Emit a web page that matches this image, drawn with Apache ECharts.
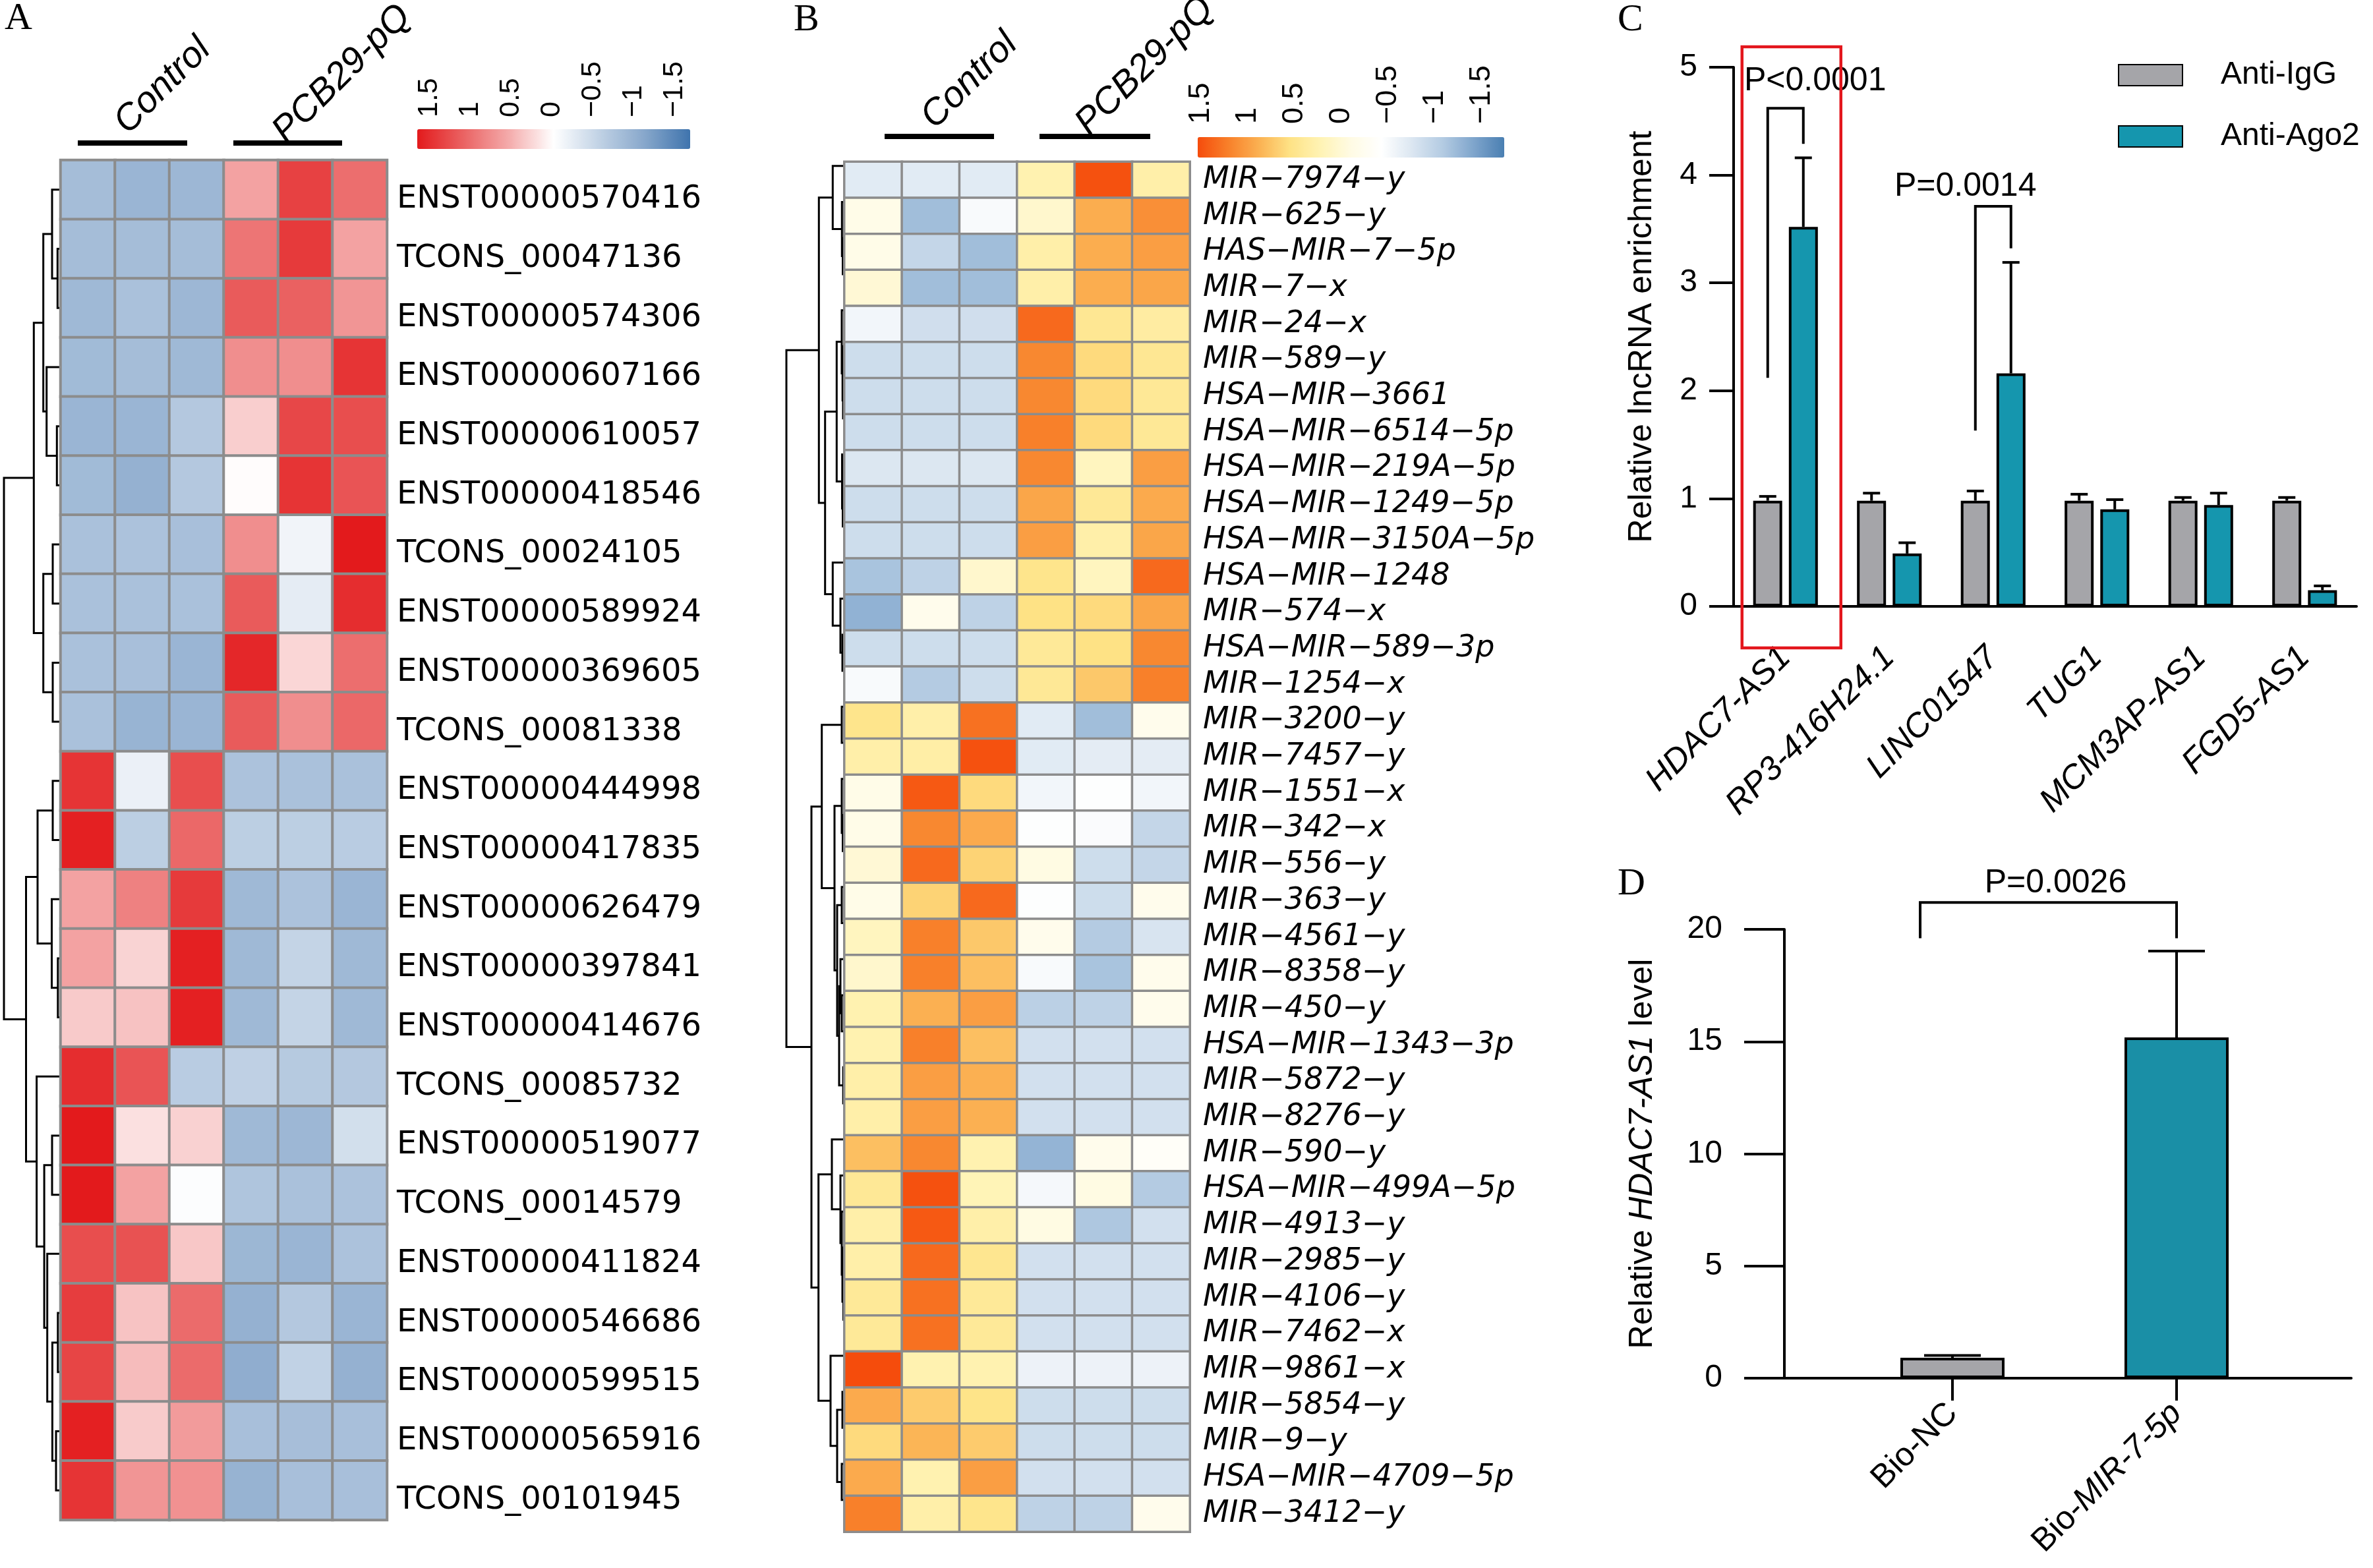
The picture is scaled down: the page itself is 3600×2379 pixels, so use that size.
<!DOCTYPE html>
<html><head><meta charset="utf-8">
<script src="https://cdn.jsdelivr.net/npm/echarts/dist/echarts.min.js"></script>
<style>html,body{margin:0;padding:0;background:#fff}#c{width:3600px;height:2379px}</style>
</head><body><div id="c"></div>
<script>
// ---------------- DATA ----------------
const sampleCols = ['Control 1','Control 2','Control 3','PCB29-pQ 1','PCB29-pQ 2','PCB29-pQ 3'];

// Panel A (lncRNA heatmap, z-scores)
const aRows = ['ENST00000570416','TCONS_00047136','ENST00000574306','ENST00000607166','ENST00000610057',
  'ENST00000418546','TCONS_00024105','ENST00000589924','ENST00000369605','TCONS_00081338',
  'ENST00000444998','ENST00000417835','ENST00000626479','ENST00000397841','ENST00000414676',
  'TCONS_00085732','ENST00000519077','TCONS_00014579','ENST00000411824','ENST00000546686',
  'ENST00000599515','ENST00000565916','TCONS_00101945'];
const aValues = [
  [-0.85,-0.95,-0.92, 0.6, 1.35, 1.0],
  [-0.85,-0.85,-0.85, 0.95, 1.4, 0.6],
  [-0.9,-0.8,-0.92, 1.15, 1.1, 0.7],
  [-0.88,-0.85,-0.9, 0.75, 0.75, 1.45],
  [-0.95,-0.95,-0.7, 0.3, 1.3, 1.25],
  [-0.88,-1.0,-0.7, 0.0, 1.45, 1.2],
  [-0.8,-0.78,-0.82, 0.75, -0.15, 1.65],
  [-0.8,-0.8,-0.8, 1.15, -0.25, 1.5],
  [-0.8,-0.82,-0.95, 1.55, 0.25, 1.0],
  [-0.8,-0.97,-0.95, 1.15, 0.75, 1.05],
  [1.45,-0.2,1.25, -0.78,-0.8,-0.8],
  [1.6,-0.62,1.05, -0.62,-0.62,-0.65],
  [0.6,0.85,1.4, -0.9,-0.78,-0.95],
  [0.6,0.27,1.6, -0.9,-0.55,-0.9],
  [0.33,0.38,1.6, -0.9,-0.55,-0.9],
  [1.5,1.2,-0.65, -0.6,-0.68,-0.7],
  [1.65,0.18,0.28, -0.9,-0.92,-0.42],
  [1.65,0.6,-0.05, -0.75,-0.8,-0.78],
  [1.25,1.22,0.35, -0.93,-0.95,-0.78],
  [1.38,0.37,1.02, -1.0,-0.7,-0.95],
  [1.32,0.42,1.02, -1.05,-0.58,-1.0],
  [1.6,0.32,0.65, -0.82,-0.83,-0.82],
  [1.45,0.7,0.73, -0.98,-0.82,-0.82]
];
// hclust-style merges: negative = leaf (row index + 1), positive = earlier merge number; third = height
const aMerges = [
  [-2,-3,4.7],[-1,1,13],[-5,-6,5.7],[-4,3,21.3],[2,4,26.3],[-7,-8,12],[-9,-10,12],[6,7,26.3],[5,8,40.7],
  [-11,-12,12],[-14,-15,4.2],[-13,11,13.5],[10,12,35],[-17,-18,13],[-20,-21,4.2],[-22,-23,7],[15,16,12.6],
  [-19,17,20.3],[14,18,24.9],[-16,19,36.4],[13,20,52.5],[9,21,86]
];
const aRange = [-1.69, 1.65];
const aPalette = ['#3f74ad','#87a7cb','#c1d2e5','#ffffff','#f4aaaa','#ea6262','#e31a1c'];
const aColorTicks = [1.5, 1, 0.5, 0, -0.5, -1, -1.5];

// Panel B (miRNA heatmap, z-scores)
const bRows = ['MIR\u22127974\u2212y','MIR\u2212625\u2212y','HAS\u2212MIR\u22127\u22125p','MIR\u22127\u2212x','MIR\u221224\u2212x',
  'MIR\u2212589\u2212y','HSA\u2212MIR\u22123661','HSA\u2212MIR\u22126514\u22125p','HSA\u2212MIR\u2212219A\u22125p','HSA\u2212MIR\u22121249\u22125p',
  'HSA\u2212MIR\u22123150A\u22125p','HSA\u2212MIR\u22121248','MIR\u2212574\u2212x','HSA\u2212MIR\u2212589\u22123p','MIR\u22121254\u2212x',
  'MIR\u22123200\u2212y','MIR\u22127457\u2212y','MIR\u22121551\u2212x','MIR\u2212342\u2212x','MIR\u2212556\u2212y',
  'MIR\u2212363\u2212y','MIR\u22124561\u2212y','MIR\u22128358\u2212y','MIR\u2212450\u2212y','HSA\u2212MIR\u22121343\u22123p',
  'MIR\u22125872\u2212y','MIR\u22128276\u2212y','MIR\u2212590\u2212y','HSA\u2212MIR\u2212499A\u22125p','MIR\u22124913\u2212y',
  'MIR\u22122985\u2212y','MIR\u22124106\u2212y','MIR\u22127462\u2212x','MIR\u22129861\u2212x','MIR\u22125854\u2212y',
  'MIR\u22129\u2212y','HSA\u2212MIR\u22124709\u22125p','MIR\u22123412\u2212y'];
const bValues = [
  [-0.7,-0.7,-0.7, 0.25,1.5,0.3],
  [-0.15,-1.2,-0.5, 0.05,0.9,1.1],
  [-0.15,-0.95,-1.2, 0.3,0.9,1.0],
  [0.0,-1.2,-1.2, 0.3,0.9,0.95],
  [-0.55,-0.85,-0.85, 1.35,0.45,0.35],
  [-0.87,-0.87,-0.87, 1.15,0.6,0.45],
  [-0.87,-0.87,-0.87, 1.15,0.6,0.43],
  [-0.87,-0.87,-0.87, 1.2,0.6,0.43],
  [-0.75,-0.75,-0.75, 1.15,0.15,1.0],
  [-0.87,-0.87,-0.87, 0.95,0.43,0.92],
  [-0.87,-0.87,-0.87, 1.0,0.3,0.95],
  [-1.15,-1.0,0.05, 0.5,0.15,1.35],
  [-1.3,-0.2,-1.0, 0.55,0.6,0.95],
  [-0.87,-0.87,-0.87, 0.42,0.55,1.15],
  [-0.5,-1.08,-0.87, 0.43,0.72,1.2],
  [0.5,0.3,1.3, -0.7,-1.2,-0.2],
  [0.3,0.32,1.5, -0.7,-0.68,-0.68],
  [-0.15,1.45,0.6, -0.55,-0.45,-0.55],
  [-0.15,1.15,0.92, -0.45,-0.48,-0.95],
  [0.0,1.35,0.65, -0.1,-0.87,-0.95],
  [-0.15,0.65,1.35, -0.45,-0.87,-0.2],
  [0.15,1.2,0.72, -0.2,-1.08,-0.78],
  [0.05,1.2,0.78, -0.5,-1.15,-0.2],
  [0.25,0.88,1.0, -1.02,-1.0,-0.2],
  [0.25,1.2,0.78, -0.83,-0.83,-0.83],
  [0.3,1.0,0.88, -0.83,-0.83,-0.83],
  [0.3,1.0,0.88, -0.83,-0.83,-0.83],
  [0.78,1.15,0.25, -1.28,-0.2,-0.35],
  [0.43,1.5,0.2, -0.52,-0.1,-1.08],
  [0.3,1.45,0.3, -0.1,-1.12,-0.83],
  [0.3,1.35,0.47, -0.83,-0.83,-0.83],
  [0.42,1.3,0.42, -0.83,-0.83,-0.83],
  [0.42,1.3,0.42, -0.83,-0.83,-0.83],
  [1.55,0.25,0.25, -0.6,-0.6,-0.6],
  [0.92,0.7,0.52, -0.87,-0.87,-0.87],
  [0.6,0.85,0.7, -0.87,-0.87,-0.87],
  [0.92,0.25,1.0, -0.83,-0.83,-0.83],
  [1.2,0.3,0.5, -1.0,-1.0,-0.2]
];
const bMerges = [
  [-3,-4,1.5],[-2,1,2.7],[-1,2,16.7],[-7,-8,1],[-6,4,1.8],[-5,5,3],[-10,-11,1.5],[-9,7,2.5],[6,8,10.7],
  [-14,-15,2],[-13,10,5],[-12,11,16.7],[9,12,28.3],[3,13,37.7],
  [-16,-17,3],[-19,-20,1.5],[-18,16,3],[-21,-22,3],[-24,-25,3],[-23,19,5],[-26,-27,0.8],[20,21,7],[18,22,10],
  [17,23,14],[15,24,33.3],[-32,-33,0.5],[-31,26,2],[-30,27,3],[-29,28,5],[-28,29,18],[-35,-36,2],[-37,-38,3],
  [31,32,10],[-34,33,20],[30,34,38.3],[25,35,49],[14,36,87]
];
const bRange = [-1.74, 1.53];
const bPalette = ['#4a7fb2','#7fa5cc','#b3cbe2','#dbe6f1','#ffffff','#fffbe4','#fff3b4','#fee285','#fbb152','#f8802a','#f54c0c'];
const bColorTicks = [1.5, 1, 0.5, 0, -0.5, -1, -1.5];

// Panel C (RIP enrichment)
const cCategories = ['HDAC7-AS1','RP3-416H24.1','LINC01547','TUG1','MCM3AP-AS1','FGD5-AS1'];
const cIgG    = [0.98, 0.98, 0.98, 0.98, 0.98, 0.98];
const cIgGErr = [0.04, 0.07, 0.09, 0.06, 0.03, 0.03];
const cAgo2    = [3.52, 0.49, 2.16, 0.90, 0.94, 0.15];
const cAgo2Err = [0.64, 0.10, 1.03, 0.09, 0.11, 0.04];
// [category, left leg bottom, top, right leg bottom, label y]
const cBrackets = [[0, 2.12, 4.62, 4.29, 4.87], [2, 1.63, 3.71, 3.32, 3.89]];
const cBracketLabels = ['P<0.0001', 'P=0.0014'];
const cHighlight = [[0, 5.19, -0.385]];

// Panel D (pull-down)
const dCategories = ['Bio-NC', 'Bio-MIR-7-5p'];
const dItalicPart = ['', 'MIR-7-5p'];
const dValues = [0.91, 15.18];
const dErr = [0.10, 3.85];
const dBracket = [[0, 1, 19.6, 21.2, 19.6, 22.05]];
const dBracketLabels = ['P=0.0026'];

// ---------------- STYLE ----------------
const SANS = "'Liberation Sans', Arial, sans-serif";
const DJ = "'DejaVu Sans', sans-serif";
const SERIF = "'Liberation Serif', 'Times New Roman', serif";
const GRAY = '#a5a5a9', TEAL = '#1596ae', TEAL_D = '#1a8fa6';

// ---------------- HELPERS ----------------
function flatten(values){ const out=[]; values.forEach((row,r)=>row.forEach((v,c)=>out.push([c,r,v]))); return out; }
function dendro(merges){
  const nodes=[], segs=[];
  const get = r => r < 0 ? {y:-r-1, h:0} : nodes[r-1];
  merges.forEach(m => { const a=get(m[0]), b=get(m[1]);
    segs.push([a.y, a.h, b.y, b.h, m[2]]); nodes.push({y:(a.y+b.y)/2, h:m[2]}); });
  return segs;
}
function dendroRender(params, api){
  const y1=api.value(0), h1=api.value(1), y2=api.value(2), h2=api.value(3), H=api.value(4);
  return {type:'polyline', shape:{points:[api.coord([h1,y1]), api.coord([H,y1]), api.coord([H,y2]), api.coord([h2,y2])]},
    style:{stroke:'#000', lineWidth:3, fill:null}};
}
const minus = v => v < 0 ? '\u2212' + Math.abs(v) : String(v);
function errRender(offsets, cap){
  return function(params, api){
    const cat=api.value(0), v=api.value(1), e=api.value(2), slot=api.value(3) || 0;
    const b=api.coord([cat, v]), t=api.coord([cat, v+e]); const x=b[0]+offsets[slot];
    return {type:'group', children:[
      {type:'line', shape:{x1:x,y1:b[1],x2:x,y2:t[1]}, style:{stroke:'#000', lineWidth:4}},
      {type:'line', shape:{x1:x-cap/2,y1:t[1],x2:x+cap/2,y2:t[1]}, style:{stroke:'#000', lineWidth:4}}]};
  };
}
const cErrData = [];
cIgG.forEach((v,i)=>cErrData.push([i, v, cIgGErr[i], 0]));
cAgo2.forEach((v,i)=>cErrData.push([i, v, cAgo2Err[i], 1]));

const chart = echarts.init(document.getElementById('c'), null, {renderer:'canvas'});
const HEAD = 'italic 56px ' + SANS;
const option = {
  animation:false,
  backgroundColor:'#fff',
  textStyle:{fontFamily:SANS, color:'#000'},
  grid:[
    {left:0, top:243, width:92, height:2063},        // 0 A dendrogram
    {left:92, top:243, width:495, height:2063},      // 1 A heatmap
    {left:633, top:196, width:414, height:30},       // 2 A colour key axis
    {left:1188, top:224.5, width:92, height:2078.6}, // 3 B dendrogram
    {left:1281, top:245.5, width:524, height:2078.6},// 4 B heatmap
    {left:1817, top:208, width:465, height:31},      // 5 B colour key axis
    {left:2630, top:102, width:945, height:818},     // 6 C
    {left:2707, top:1410, width:860, height:681},    // 7 D axes
    {left:2792, top:1410, width:680, height:681}     // 8 D bars
  ],
  xAxis:[
    {gridIndex:0, type:'value', min:0, max:92, inverse:true, show:false},
    {gridIndex:1, type:'category', data:sampleCols, show:false},
    {gridIndex:2, type:'value', min:aRange[0], max:aRange[1], inverse:true, position:'top',
      axisLine:{show:false}, axisTick:{show:false}, splitLine:{show:false},
      axisLabel:{customValues:aColorTicks, rotate:90, formatter:minus, fontSize:43, margin:18, color:'#000', fontFamily:SANS}},
    {gridIndex:3, type:'value', min:0, max:92, inverse:true, show:false},
    {gridIndex:4, type:'category', data:sampleCols, show:false},
    {gridIndex:5, type:'value', min:bRange[0], max:bRange[1], inverse:true, position:'top',
      axisLine:{show:false}, axisTick:{show:false}, splitLine:{show:false},
      axisLabel:{customValues:bColorTicks, rotate:90, formatter:minus, fontSize:45, margin:20, color:'#000', fontFamily:SANS}},
    {gridIndex:6, type:'category', data:cCategories,
      axisLine:{lineStyle:{color:'#000', width:4}},
      axisTick:{alignWithLabel:true, length:42, lineStyle:{color:'#000', width:4}},
      axisLabel:{interval:0, rotate:45, fontStyle:'italic', fontSize:51, margin:70, color:'#000', fontFamily:SANS}},
    {gridIndex:7, type:'value', min:0, max:1, axisLine:{show:true, onZero:false, lineStyle:{color:'#000', width:4}},
      axisTick:{show:false}, axisLabel:{show:false}, splitLine:{show:false}},
    {gridIndex:8, type:'category', data:dCategories,
      axisLine:{show:false},
      axisTick:{show:true, alignWithLabel:true, length:34, lineStyle:{color:'#000', width:4}},
      axisLabel:{interval:0, rotate:45, fontSize:50, margin:46, color:'#000', fontFamily:SANS,
        formatter:(v,i)=> dItalicPart[i] ? v.replace(dItalicPart[i], '{i|'+dItalicPart[i]+'}') : v,
        rich:{i:{fontStyle:'italic', fontSize:50, fontFamily:SANS, color:'#000'}}}}
  ],
  yAxis:[
    {gridIndex:0, type:'value', min:-0.5, max:aRows.length-0.5, inverse:true, show:false},
    {gridIndex:1, type:'category', data:aRows, inverse:true, position:'right',
      axisLine:{show:false}, axisTick:{show:false},
      axisLabel:{interval:0, fontSize:48, fontFamily:DJ, color:'#000', margin:15, verticalAlign:'top', lineHeight:30}},
    {gridIndex:2, type:'value', show:false},
    {gridIndex:3, type:'value', min:-0.5, max:bRows.length-0.5, inverse:true, show:false},
    {gridIndex:4, type:'category', data:bRows, inverse:true, position:'right',
      axisLine:{show:false}, axisTick:{show:false},
      axisLabel:{interval:0, fontSize:46, fontStyle:'italic', fontFamily:DJ, color:'#000', margin:20}},
    {gridIndex:5, type:'value', show:false},
    {gridIndex:6, type:'value', min:0, max:5, interval:1,
      axisLine:{show:true, lineStyle:{color:'#000', width:4}},
      axisTick:{show:true, length:37, lineStyle:{color:'#000', width:4}},
      splitLine:{show:false},
      axisLabel:{fontSize:48, margin:55, color:'#000', fontFamily:SANS},
      name:'Relative lncRNA enrichment', nameLocation:'middle', nameGap:114,
      nameTextStyle:{fontSize:50, fontFamily:SANS, color:'#000'}},
    {gridIndex:7, type:'value', min:0, max:20, interval:5,
      axisLine:{show:true, lineStyle:{color:'#000', width:4}},
      axisTick:{show:true, length:61, lineStyle:{color:'#000', width:4}},
      splitLine:{show:false},
      axisLabel:{fontSize:48, margin:94, color:'#000', fontFamily:SANS},
      name:'Relative {i|HDAC7-AS1} level', nameLocation:'middle', nameGap:190,
      nameTextStyle:{fontSize:50, fontFamily:SANS, color:'#000',
        rich:{i:{fontStyle:'italic', fontSize:50, fontFamily:SANS, color:'#000'}}}},
    {gridIndex:8, type:'value', min:0, max:20, show:false}
  ],
  visualMap:[
    {type:'continuous', seriesIndex:1, min:aRange[0], max:aRange[1], orient:'horizontal', inverse:true,
      left:633, top:196, itemWidth:30, itemHeight:414, calculable:false, hoverLink:false, padding:0,
      inRange:{color:aPalette}},
    {type:'continuous', seriesIndex:3, min:bRange[0], max:bRange[1], orient:'horizontal', inverse:true,
      left:1817, top:208, itemWidth:31, itemHeight:465, calculable:false, hoverLink:false, padding:0,
      inRange:{color:bPalette}}
  ],
  legend:{orient:'vertical', left:3213, top:90, itemWidth:97, itemHeight:32, itemGap:45, padding:0,
    selectedMode:false, icon:'rect', data:['Anti-IgG','Anti-Ago2'],
    textStyle:{fontSize:48, fontFamily:SANS, color:'#000', padding:[0,0,0,53]}},
  series:[
    {type:'custom', xAxisIndex:0, yAxisIndex:0, data:dendro(aMerges), encode:{x:1, y:0}, renderItem:dendroRender, clip:false, silent:true},
    {type:'heatmap', xAxisIndex:1, yAxisIndex:1, data:flatten(aValues), silent:true,
      itemStyle:{borderColor:'#8c8c8c', borderWidth:4}, emphasis:{disabled:true}},
    {type:'custom', xAxisIndex:3, yAxisIndex:3, data:dendro(bMerges), encode:{x:1, y:0}, renderItem:dendroRender, clip:false, silent:true},
    {type:'heatmap', xAxisIndex:4, yAxisIndex:4, data:flatten(bValues), silent:true,
      itemStyle:{borderColor:'#8c8c8c', borderWidth:3.5}, emphasis:{disabled:true}},
    {name:'Anti-IgG', type:'bar', xAxisIndex:6, yAxisIndex:6, data:cIgG, barWidth:44, barGap:'23%',
      itemStyle:{color:GRAY, borderColor:'#000', borderWidth:4}},
    {name:'Anti-Ago2', type:'bar', xAxisIndex:6, yAxisIndex:6, data:cAgo2, barWidth:44, barGap:'23%',
      itemStyle:{color:TEAL, borderColor:'#000', borderWidth:4}},
    {type:'custom', xAxisIndex:6, yAxisIndex:6, data:cErrData, encode:{x:0, y:1}, clip:false, silent:true, z:3,
      renderItem:errRender([-27, 27], 26)},
    {type:'custom', xAxisIndex:6, yAxisIndex:6, data:cBrackets, encode:{x:0, y:2}, clip:false, silent:true, z:3,
      renderItem:function(params, api){
        const i=params.dataIndex, cat=api.value(0);
        const c=api.coord([cat, api.value(2)]);
        const xL=c[0]-27, xR=c[0]+27;
        const yLB=api.coord([cat, api.value(1)])[1], yRB=api.coord([cat, api.value(3)])[1], yL=api.coord([cat, api.value(4)])[1];
        const dx=[45,-42][i];
        return {type:'group', children:[
          {type:'polyline', shape:{points:[[xL,yLB],[xL,c[1]],[xR,c[1]],[xR,yRB]]}, style:{stroke:'#000', lineWidth:4, fill:null}},
          {type:'text', x:c[0]+dx, y:yL, style:{text:cBracketLabels[i], font:'50px '+SANS, fill:'#000', align:'center', verticalAlign:'middle'}}]};
      }},
    {type:'custom', xAxisIndex:6, yAxisIndex:6, data:cHighlight, encode:{x:0, y:1}, clip:false, silent:true, z:4,
      renderItem:function(params, api){
        const t=api.coord([api.value(0), api.value(1)]), b=api.coord([api.value(0), api.value(2)]);
        return {type:'rect', shape:{x:t[0]-66, y:t[1], width:150, height:b[1]-t[1]}, style:{stroke:'#e3161c', lineWidth:4.5, fill:null}};
      }},
    {type:'bar', xAxisIndex:8, yAxisIndex:8, barWidth:158,
      data:dValues.map((v,i)=>({value:v, itemStyle:{color:[GRAY, TEAL_D][i]}})),
      itemStyle:{borderColor:'#000', borderWidth:4}},
    {type:'custom', xAxisIndex:8, yAxisIndex:8, data:dValues.map((v,i)=>[i, v, dErr[i], 0]), encode:{x:0, y:1}, clip:false, silent:true, z:3,
      renderItem:errRender([0, 0], 86)},
    {type:'custom', xAxisIndex:8, yAxisIndex:8, data:dBracket, encode:{x:0, y:3}, clip:false, silent:true, z:3,
      renderItem:function(params, api){
        const xL=api.coord([api.value(0), 0])[0]-49, xR=api.coord([api.value(1), 0])[0];
        const yLB=api.coord([0, api.value(2)])[1], yT=api.coord([0, api.value(3)])[1], yRB=api.coord([0, api.value(4)])[1], yL=api.coord([0, api.value(5)])[1];
        return {type:'group', children:[
          {type:'polyline', shape:{points:[[xL,yLB],[xL,yT],[xR,yT],[xR,yRB]]}, style:{stroke:'#000', lineWidth:4, fill:null}},
          {type:'text', x:(xL+xR)/2+11, y:yL, style:{text:dBracketLabels[params.dataIndex], font:'50px '+SANS, fill:'#000', align:'center', verticalAlign:'middle'}}]};
      }}
  ],
  graphic:[
    {type:'text', x:7, y:29, style:{text:'A', font:'58px '+SERIF, fill:'#000', verticalAlign:'middle'}},
    {type:'text', x:1204, y:31, style:{text:'B', font:'58px '+SERIF, fill:'#000', verticalAlign:'middle'}},
    {type:'text', x:2454, y:31, style:{text:'C', font:'58px '+SERIF, fill:'#000', verticalAlign:'middle'}},
    {type:'text', x:2454, y:1342, style:{text:'D', font:'58px '+SERIF, fill:'#000', verticalAlign:'middle'}},
    {type:'text', x:203, y:214, rotation:Math.PI/4, style:{text:'Control', font:HEAD, fill:'#000', align:'left', verticalAlign:'bottom'}},
    {type:'text', x:443, y:228, rotation:Math.PI/4, style:{text:'PCB29-pQ', font:HEAD, fill:'#000', align:'left', verticalAlign:'bottom'}},
    {type:'text', x:1427, y:206, rotation:Math.PI/4, style:{text:'Control', font:HEAD, fill:'#000', align:'left', verticalAlign:'bottom'}},
    {type:'text', x:1661, y:216, rotation:Math.PI/4, style:{text:'PCB29-pQ', font:HEAD, fill:'#000', align:'left', verticalAlign:'bottom'}},
    {type:'rect', shape:{x:118, y:213, width:166, height:8}, style:{fill:'#000'}},
    {type:'rect', shape:{x:354, y:213, width:165, height:8}, style:{fill:'#000'}},
    {type:'rect', shape:{x:1342, y:203, width:166, height:8}, style:{fill:'#000'}},
    {type:'rect', shape:{x:1577, y:203, width:168, height:8}, style:{fill:'#000'}}
  ]
};
chart.setOption(option);
</script></body></html>
